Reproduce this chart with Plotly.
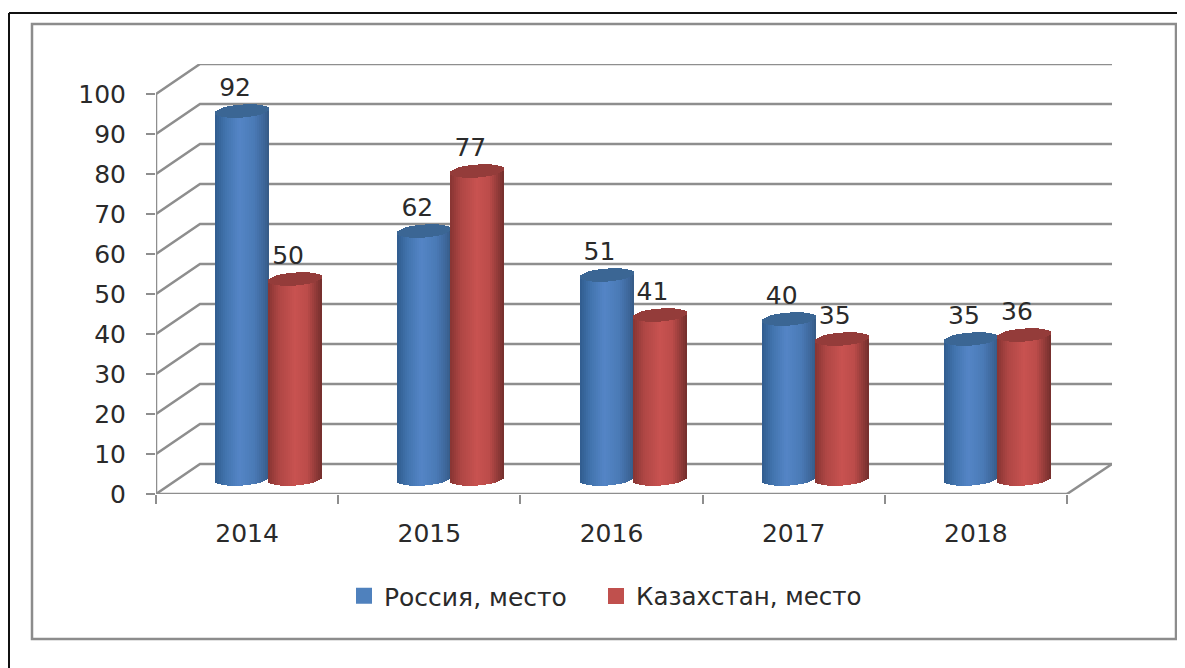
import numpy as np
import plotly.graph_objects as go

# ---- data ----
years = ["2014", "2015", "2016", "2017", "2018"]
russia = [92, 62, 51, 40, 35]
kazakhstan = [50, 77, 41, 35, 36]
y_ticks = [0, 10, 20, 30, 40, 50, 60, 70, 80, 90, 100]
series_names = ["Россия, место", "Казахстан, место"]

# ---- layout geometry (the page puts the figure 8 px in from the window corner) ----
PAGE = 8
W, H = 1185 - PAGE, 668 - PAGE
ML, MR, MT, MB = 156 - PAGE, 73, 64 - PAGE, 174
PX_PER_CAT = 182.2
PX_PER_UNIT = 4.0
XMIN = -0.5
XMAX = XMIN + (W - ML - MR) / PX_PER_CAT
YMAX = (H - MT - MB) / PX_PER_UNIT
SKEW_X = 44 / PX_PER_CAT      # depth of the 3D box, horizontally
SKEW_Y = 30 / PX_PER_UNIT     # depth of the 3D box, vertically
MID_X = 21.5 / PX_PER_CAT     # cylinders stand half way into the box
MID_Y = 15 / PX_PER_UNIT
HALF = 27 / PX_PER_CAT        # cylinder half width
SHIFT = 26.5 / PX_PER_CAT     # series offset from the group centre
ELL = 6.5 / PX_PER_UNIT       # ellipse half height
TILT = 2 / PX_PER_UNIT        # ellipse tilt
STRIP = 2 / PX_PER_CAT
GRID = "#8e8e8e"
TEXT = "#2a2a2a"
FONT = "DejaVu Sans"
FS = 25


def mix(stops, t):
    ts = [s[0] for s in stops]
    rgb = [np.interp(t, ts, [s[1][i] for s in stops]) for i in range(3)]
    return "rgb(%d,%d,%d)" % tuple(int(round(c)) for c in rgb)


def px(x):
    return (x - PAGE - ML) / (W - ML - MR)


def py(y):
    return (H - MB - (y - PAGE)) / (H - MT - MB)


blue_stops = [(-1, (48, 92, 142)), (-0.6, (66, 116, 174)), (-0.1, (84, 133, 198)),
              (0.45, (74, 122, 182)), (0.85, (60, 100, 150)), (1, (54, 90, 132))]
red_stops = [(-1, (134, 52, 50)), (-0.6, (174, 70, 68)), (0.0, (200, 82, 80)),
             (0.45, (188, 76, 74)), (0.85, (134, 54, 52)), (1, (114, 46, 44))]
styles = [
    dict(base="#4F81BD", cap="#3B6694", stops=blue_stops, sign=-1, legend="legend"),
    dict(base="#C0504D", cap="#943C3A", stops=red_stops, sign=1, legend="legend2"),
]

fig = go.Figure()
centers = np.arange(len(years), dtype=float) + MID_X

for name, vals, st in zip(series_names, [russia, kazakhstan], styles):
    vals = np.array(vals, dtype=float)
    cx = centers + st["sign"] * SHIFT
    # the real bar
    fig.add_trace(go.Bar(x=cx, y=vals, base=MID_Y, width=2 * HALF * 0.98, name=name,
                         legendgroup=name, showlegend=False,
                         marker=dict(color=st["base"], line=dict(width=0)),
                         hovertemplate="%{y}<extra>" + name + "</extra>"))
    # vertical strips shading it as a cylinder, then its lid
    us = np.arange(-1 + STRIP / HALF / 2, 1, STRIP / HALF)
    xs, side_y, side_b, side_c, cap_y, cap_b = [], [], [], [], [], []
    for c, v in zip(cx, vals):
        for u in us:
            arc = ELL * np.sqrt(max(0.0, 1 - u * u))
            lean = TILT * u
            xs.append(c + u * HALF)
            side_y.append(v)
            side_b.append(MID_Y + lean - arc)
            side_c.append(mix(st["stops"], u))
            cap_y.append(2 * arc)
            cap_b.append(MID_Y + v + lean - arc)
    fig.add_trace(go.Bar(x=xs, y=side_y, base=side_b, width=STRIP, showlegend=False,
                         legendgroup=name,
                         marker=dict(color=side_c, line=dict(width=0)), hoverinfo="skip"))
    fig.add_trace(go.Bar(x=xs, y=cap_y, base=cap_b, width=STRIP, showlegend=False,
                         legendgroup=name,
                         marker=dict(color=st["cap"], line=dict(width=0)), hoverinfo="skip"))
    # legend entry with the reference's larger square swatch
    fig.add_trace(go.Scatter(x=[None], y=[None], mode="markers", name=name, legendgroup=name,
                             legend=st["legend"], hoverinfo="skip",
                             marker=dict(symbol="square", size=16, color=st["base"])))

# value labels
for vals, st in zip([russia, kazakhstan], styles):
    cx = centers + st["sign"] * SHIFT - 7 / PX_PER_CAT
    fig.add_trace(go.Scatter(x=cx, y=[v + MID_Y + 21 / PX_PER_UNIT for v in vals],
                             mode="text", text=[str(v) for v in vals], textposition="middle center",
                             textfont=dict(family=FONT, size=FS, color=TEXT),
                             showlegend=False, hoverinfo="skip", cliponaxis=False))

# 3D box drawn behind the bars
shapes = []
line = dict(color=GRID, width=2.5)
right = len(years) - 0.5
for v in y_ticks:
    shapes.append(dict(type="path", layer="below", xref="x", yref="y", line=line,
                       path=f"M{XMIN},{v} L{XMIN + SKEW_X},{v + SKEW_Y} L{XMAX},{v + SKEW_Y}"))
shapes.append(dict(type="line", layer="below", xref="x", yref="y", line=line,
                   x0=XMIN, x1=XMIN, y0=0, y1=max(y_ticks)))
shapes.append(dict(type="line", layer="below", xref="x", yref="y", line=line,
                   x0=XMIN, x1=right, y0=0, y1=0))
shapes.append(dict(type="line", layer="below", xref="x", yref="y", line=line,
                   x0=right, x1=XMAX, y0=0, y1=SKEW_Y))

# page frames
shapes.append(dict(type="rect", xref="paper", yref="paper", layer="below",
                   x0=px(32), x1=px(1176), y0=py(639), y1=py(24),
                   line=dict(color="#8c8c8c", width=2.5)))
shapes.append(dict(type="line", xref="paper", yref="paper", layer="below",
                   x0=px(9), x1=px(9), y0=py(13), y1=py(H + 20), line=dict(color="#111111", width=2)))
shapes.append(dict(type="line", xref="paper", yref="paper", layer="below",
                   x0=px(9), x1=px(W + 20), y0=py(13), y1=py(13), line=dict(color="#111111", width=2)))

legend_common = dict(orientation="h", xanchor="left", yanchor="middle", itemwidth=30,
                     bgcolor="rgba(0,0,0,0)")

fig.update_layout(
    width=W, height=H, autosize=False,
    margin=dict(l=ML, r=MR, t=MT, b=MB, pad=0),
    paper_bgcolor="white", plot_bgcolor="white",
    barmode="overlay", bargap=0, shapes=shapes,
    font=dict(family=FONT, size=FS, color=TEXT),
    legend=dict(x=px(344), y=py(596), font=dict(family=FONT, size=FS, color=TEXT), **legend_common),
    legend2=dict(x=px(596), y=py(596), font=dict(family=FONT, size=24.5, color=TEXT), **legend_common),
    xaxis=dict(range=[XMIN, XMAX], tickmode="array", tickvals=list(range(len(years))),
               ticktext=years, ticks="", showgrid=False, zeroline=False, showline=False,
               tickfont=dict(family=FONT, size=FS, color=TEXT), ticklabelstandoff=22,
               minor=dict(tickmode="array", tickvals=[i - 0.5 for i in range(len(years) + 1)],
                          ticks="outside", ticklen=9, tickwidth=2, tickcolor=GRID, showgrid=False)),
    yaxis=dict(range=[0, YMAX], tickmode="array", tickvals=y_ticks, ticks="outside",
               ticklen=9, tickwidth=2, tickcolor=GRID, showgrid=False, zeroline=False,
               showline=False, tickfont=dict(family=FONT, size=FS, color=TEXT), ticklabelstandoff=15),
)

fig.write_html("out.html", config={"displayModeBar": False})
